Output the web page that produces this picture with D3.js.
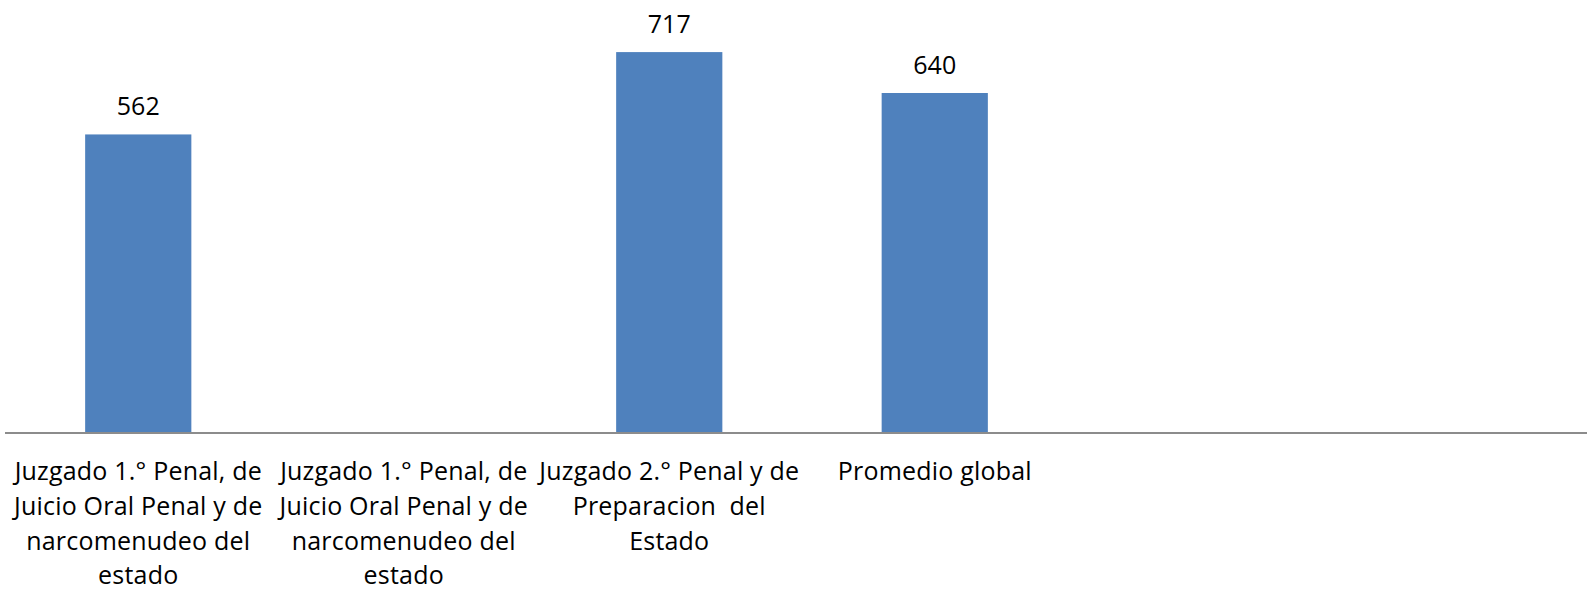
<!DOCTYPE html>
<html>
<head>
<meta charset="utf-8">
<script src="https://cdn.jsdelivr.net/npm/d3@7"></script>
<style>
  html, body { margin: 0; padding: 0; background: #ffffff; }
  svg { display: block; }
  text { font-family: "Open Sans", Lato, sans-serif; fill: #000; white-space: pre; }
</style>
</head>
<body>
<svg id="chart" width="1587" height="590"></svg>
<script>
// ---- data ----
const categories = [
  "Juzgado 1.° Penal, de\nJuicio Oral Penal y de\nnarcomenudeo del\nestado",
  "Juzgado 1.° Penal, de\nJuicio Oral Penal y de\nnarcomenudeo del\nestado",
  "Juzgado 2.° Penal y de\nPreparacion  del\nEstado",
  "Promedio global",
  "",
  ""
];
const values = [562, null, 717, 640, null, null];
const yDomain = [0, 800];

// ---- layout ----
const W = 1587, H = 590;
const baseY = 433;
const fontSize = 25;
const svg = d3.select("#chart");

const x = d3.scaleBand()
  .domain(d3.range(categories.length))
  .range([5.5, 5.5 + 265.5 * categories.length])
  .paddingInner(0.6)
  .paddingOuter(0.3);

const y = d3.scaleLinear().domain(yDomain).range([baseY, 8]);

const data = categories.map((c, i) => ({ i, label: c, value: values[i] }));

// bars
svg.append("g").selectAll("rect")
  .data(data.filter(d => d.value != null))
  .join("rect")
  .attr("x", d => x(d.i))
  .attr("width", x.bandwidth())
  .attr("y", d => y(d.value))
  .attr("height", d => y(0) - y(d.value))
  .attr("fill", "#4F81BD");

// value labels
svg.append("g").selectAll("text")
  .data(data.filter(d => d.value != null))
  .join("text")
  .attr("x", d => x(d.i) + x.bandwidth() / 2)
  .attr("y", d => y(d.value) - 19)
  .attr("text-anchor", "middle")
  .style("font-size", fontSize + "px")
  .text(d => d.value);

// axis
const xAxis = d3.axisBottom(x).tickSize(0).tickFormat("");
const ax = svg.append("g").attr("transform", `translate(0,${baseY})`).call(xAxis);
ax.select(".domain").remove();
ax.append("line")
  .attr("x1", 5).attr("x2", W)
  .attr("y1", 0).attr("y2", 0)
  .attr("stroke", "#8c8c8c").attr("stroke-width", 2);

// category labels
const lab = svg.append("g").selectAll("text")
  .data(data)
  .join("text")
  .attr("text-anchor", "middle")
  .style("font-size", fontSize + "px")
  .style("letter-spacing", "0.2px")
  .attr("transform", d => `translate(${x(d.i) + x.bandwidth() / 2},480)`);
lab.each(function(d) {
  const lines = d.label.split("\n");
  d3.select(this).selectAll("tspan")
    .data(lines)
    .join("tspan")
    .attr("x", 0)
    .attr("y", (l, k) => k * 34.8)
    .text(l => l);
});
</script>
</body>
</html>
